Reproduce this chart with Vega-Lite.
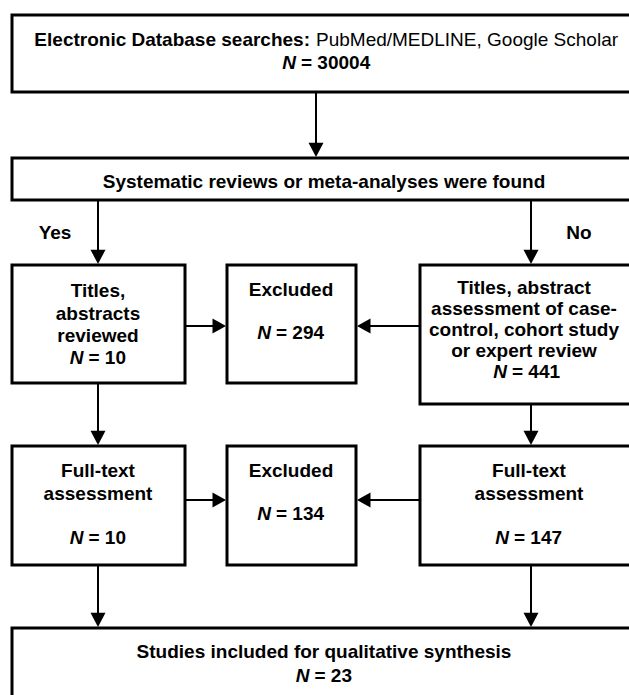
{
  "$schema": "https://vega.github.io/schema/vega-lite/v6.json",
  "width": 629,
  "height": 695,
  "autosize": {"type": "none"},
  "padding": 0,
  "background": "white",
  "config": {"view": {"stroke": null}, "font": "Liberation Sans"},
  "datasets": {
    "boxes": [
      {"id": "search", "x": 12, "x2": 660, "y": 15, "y2": 92},
      {"id": "found", "x": 12, "x2": 660, "y": 158, "y2": 200},
      {"id": "titlesYes", "x": 12, "x2": 185, "y": 265, "y2": 383},
      {"id": "excluded1", "x": 227, "x2": 356, "y": 265, "y2": 383},
      {"id": "titlesNo", "x": 420, "x2": 660, "y": 265, "y2": 404},
      {"id": "fullYes", "x": 12, "x2": 185, "y": 446, "y2": 565},
      {"id": "excluded2", "x": 227, "x2": 356, "y": 446, "y2": 565},
      {"id": "fullNo", "x": 420, "x2": 660, "y": 446, "y2": 565},
      {"id": "included", "x": 12, "x2": 660, "y": 628, "y2": 720}
    ],
    "links": [
      {"x": 316, "y": 92, "x2": 316, "y2": 150},
      {"x": 98, "y": 200, "x2": 98, "y2": 258},
      {"x": 531, "y": 200, "x2": 531, "y2": 258},
      {"x": 185, "y": 326, "x2": 218, "y2": 326},
      {"x": 420, "y": 326, "x2": 365, "y2": 326},
      {"x": 98, "y": 383, "x2": 98, "y2": 440},
      {"x": 531, "y": 404, "x2": 531, "y2": 440},
      {"x": 185, "y": 500, "x2": 218, "y2": 500},
      {"x": 420, "y": 500, "x2": 365, "y2": 500},
      {"x": 98, "y": 565, "x2": 98, "y2": 620},
      {"x": 531, "y": 565, "x2": 531, "y2": 620}
    ],
    "downHeads": [
      {"x": 316, "y": 157},
      {"x": 98, "y": 264},
      {"x": 531, "y": 264},
      {"x": 98, "y": 445},
      {"x": 531, "y": 445},
      {"x": 98, "y": 627},
      {"x": 531, "y": 627}
    ],
    "rightHeads": [{"x": 226, "y": 326}, {"x": 226, "y": 500}],
    "leftHeads": [{"x": 357, "y": 326}, {"x": 357, "y": 500}],
    "labels": [
      {"x": 324, "y": 181, "text": "Systematic reviews or meta-analyses were found"},
      {"x": 55, "y": 232, "text": "Yes"},
      {"x": 579, "y": 232, "text": "No"},
      {"x": 98, "y": 290, "text": "Titles,"},
      {"x": 98, "y": 313, "text": "abstracts"},
      {"x": 98, "y": 335, "text": "reviewed"},
      {"x": 291, "y": 289, "text": "Excluded"},
      {"x": 524, "y": 287, "text": "Titles, abstract"},
      {"x": 524, "y": 308, "text": "assessment of case-"},
      {"x": 524, "y": 329, "text": "control, cohort study"},
      {"x": 524, "y": 350, "text": "or expert review"},
      {"x": 98, "y": 470, "text": "Full-text"},
      {"x": 98, "y": 493, "text": "assessment"},
      {"x": 291, "y": 470, "text": "Excluded"},
      {"x": 529, "y": 470, "text": "Full-text"},
      {"x": 529, "y": 493, "text": "assessment"},
      {"x": 324, "y": 651, "text": "Studies included for qualitative synthesis"}
    ],
    "counts": [
      {"x": 296, "y": 62, "rest": "= 30004"},
      {"x": 83.5, "y": 357, "rest": "= 10"},
      {"x": 271, "y": 332, "rest": "= 294"},
      {"x": 507, "y": 371, "rest": "= 441"},
      {"x": 83.5, "y": 537, "rest": "= 10"},
      {"x": 271, "y": 513, "rest": "= 134"},
      {"x": 509, "y": 537, "rest": "= 147"},
      {"x": 309.5, "y": 675, "rest": "= 23"}
    ],
    "headBold": [{"x": 310, "y": 39, "text": "Electronic Database searches:"}],
    "headRegular": [{"x": 316, "y": 39, "text": "PubMed/MEDLINE, Google Scholar"}]
  },
  "encoding": {
    "x": {"field": "x", "type": "quantitative", "scale": {"domain": [0, 629], "nice": false, "zero": false}, "axis": null},
    "y": {"field": "y", "type": "quantitative", "scale": {"domain": [0, 695], "nice": false, "zero": false, "reverse": true}, "axis": null}
  },
  "layer": [
    {
      "data": {"name": "boxes"},
      "mark": {"type": "rect", "fill": "white", "stroke": "black", "strokeWidth": 3, "clip": true},
      "encoding": {"x2": {"field": "x2"}, "y2": {"field": "y2"}}
    },
    {
      "data": {"name": "links"},
      "mark": {"type": "rule", "color": "black", "strokeWidth": 2},
      "encoding": {"x2": {"field": "x2"}, "y2": {"field": "y2"}}
    },
    {
      "data": {"name": "downHeads"},
      "mark": {"type": "point", "shape": "M-0.5,-0.95L0.5,-0.95L0,0Z", "size": 900, "filled": true, "color": "black", "opacity": 1, "strokeWidth": 0}
    },
    {
      "data": {"name": "rightHeads"},
      "mark": {"type": "point", "shape": "M-0.9,-0.5L-0.9,0.5L0,0Z", "size": 900, "filled": true, "color": "black", "opacity": 1, "strokeWidth": 0}
    },
    {
      "data": {"name": "leftHeads"},
      "mark": {"type": "point", "shape": "M0.9,-0.5L0.9,0.5L0,0Z", "size": 900, "filled": true, "color": "black", "opacity": 1, "strokeWidth": 0}
    },
    {
      "data": {"name": "labels"},
      "mark": {"type": "text", "font": "Liberation Sans", "fontSize": 19, "fontWeight": "bold", "align": "center", "baseline": "middle", "dy": 1, "color": "black"},
      "encoding": {"text": {"field": "text"}}
    },
    {
      "data": {"name": "counts"},
      "mark": {"type": "text", "text": "N", "font": "Liberation Sans", "fontSize": 19, "fontWeight": "bold", "fontStyle": "italic", "align": "right", "baseline": "middle", "dy": 1, "color": "black"}
    },
    {
      "data": {"name": "counts"},
      "mark": {"type": "text", "font": "Liberation Sans", "fontSize": 19, "fontWeight": "bold", "align": "left", "baseline": "middle", "dx": 5, "dy": 1, "color": "black"},
      "encoding": {"text": {"field": "rest"}}
    },
    {
      "data": {"name": "headBold"},
      "mark": {"type": "text", "font": "Liberation Sans", "fontSize": 19, "fontWeight": "bold", "align": "right", "baseline": "middle", "dy": 1, "color": "black"},
      "encoding": {"text": {"field": "text"}}
    },
    {
      "data": {"name": "headRegular"},
      "mark": {"type": "text", "font": "Liberation Sans", "fontSize": 19, "fontWeight": "normal", "align": "left", "baseline": "middle", "dy": 1, "color": "black"},
      "encoding": {"text": {"field": "text"}}
    }
  ]
}
